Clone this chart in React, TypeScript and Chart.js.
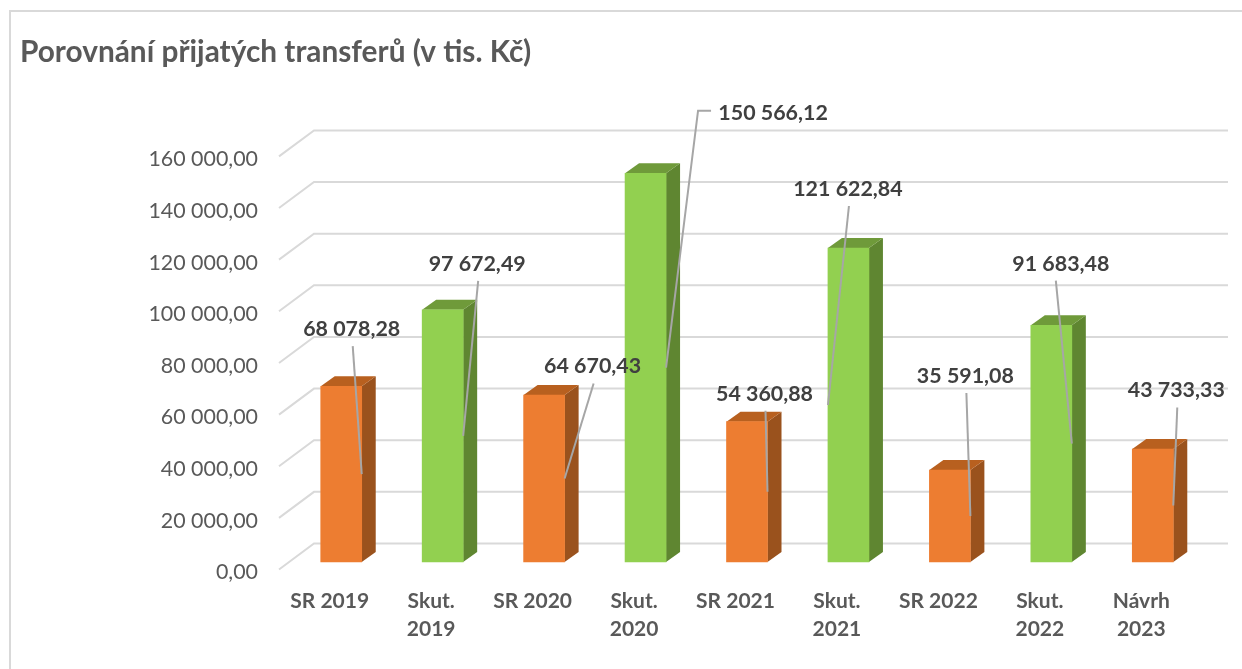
import React, { useEffect, useRef } from "react";
import { Chart, registerables } from "chart.js";

Chart.register(...registerables);

const categories: string[][] = [
  ["SR 2019"], ["Skut.", "2019"], ["SR 2020"], ["Skut.", "2020"], ["SR 2021"],
  ["Skut.", "2021"], ["SR 2022"], ["Skut.", "2022"], ["Návrh", "2023"],
];
const values = [68078.28, 97672.49, 64670.43, 150566.12, 54360.88, 121622.84, 35591.08, 91683.48, 43733.33];
const barKinds = ["sr", "skut", "sr", "skut", "sr", "skut", "sr", "skut", "sr"];
const labelDx = [-10, 14, 28, 107, -3, 20, -5, -11, 3];
const labelDy = [-145, -172, -112, -255, -98, -216, -140, -180, -115];
const leaderSide = [1, 1, 1, 1, 1, -1, 1, 1, 1];
const leaderStartDx = [1, 1, 1, 0, 1, 1, 1, -5, 1];

const FONT = "Lato, 'Open Sans', sans-serif";
const palette: Record<string, { front: string; side: string; top: string }> = {
  sr: { front: "#ED7D31", side: "#9A521D", top: "#B8601F" },
  skut: { front: "#92D050", side: "#5F8631", top: "#6F9A3A" },
};
const FRONT_DY = -3;
const WALL = { dx: 35, dy: -26 };
const BAR_SHIFT = { dx: 11.5, dy: -10.5 };
const BAR_DEPTH = { dx: 14, dy: -10 };

const fmt = (v: number) => {
  const [a, b] = v.toFixed(2).split(".");
  return a.replace(/\B(?=(\d{3})+$)/g, " ") + "," + b;
};

const poly = (ctx: CanvasRenderingContext2D, pts: number[][], color: string) => {
  ctx.fillStyle = color;
  ctx.beginPath();
  pts.forEach(([x, y], i) => (i ? ctx.lineTo(x, y) : ctx.moveTo(x, y)));
  ctx.closePath();
  ctx.fill();
};

const depthPlugin = {
  id: "depth",
  beforeDatasetsDraw(chart: any) {
    const { ctx, chartArea, scales } = chart;
    ctx.save();
    ctx.strokeStyle = "#D9D9D9";
    ctx.lineWidth = 2;
    scales.y.ticks.forEach((t: any) => {
      const y = scales.y.getPixelForValue(t.value) + FRONT_DY;
      ctx.beginPath();
      ctx.moveTo(chartArea.left, y);
      ctx.lineTo(chartArea.left + WALL.dx, y + WALL.dy);
      ctx.lineTo(chartArea.right + WALL.dx + 1, y + WALL.dy);
      ctx.stroke();
    });
    ctx.translate(BAR_SHIFT.dx, BAR_SHIFT.dy);
    chart.getDatasetMeta(0).data.forEach((bar: any, i: number) => {
      const c = palette[barKinds[i]];
      const l = bar.x - bar.width / 2;
      const r = bar.x + bar.width / 2;
      const { dx, dy } = BAR_DEPTH;
      poly(ctx, [[r, bar.y], [r + dx, bar.y + dy], [r + dx, bar.base + dy], [r, bar.base]], c.side);
      poly(ctx, [[l, bar.y], [l + dx, bar.y + dy], [r + dx, bar.y + dy], [r, bar.y]], c.top);
    });
    // left translated so that the library's own bars land on the same plane
  },
  afterDatasetsDraw(chart: any) {
    const { ctx } = chart;
    ctx.restore();
    ctx.save();
    ctx.font = `bold 21.4px ${FONT}`;
    ctx.textAlign = "center";
    ctx.textBaseline = "middle";
    chart.getDatasetMeta(0).data.forEach((bar: any, i: number) => {
      const ex = bar.x + (leaderSide[i] * bar.width) / 2 + BAR_SHIFT.dx;
      const ey = (bar.y + bar.base) / 2 + BAR_SHIFT.dy;
      const cx = ex + labelDx[i];
      const cy = ey + labelDy[i];
      ctx.strokeStyle = "#A6A6A6";
      ctx.lineWidth = 2;
      ctx.beginPath();
      if (Math.abs(labelDx[i]) > 60) {
        ctx.moveTo(cx - 62, cy - 2);
        ctx.lineTo(cx - 75, cy - 2);
      } else {
        ctx.moveTo(cx + leaderStartDx[i], cy + 17);
      }
      ctx.lineTo(ex, ey);
      ctx.stroke();
      ctx.fillStyle = "#404040";
      ctx.fillText(fmt(values[i]), cx, cy);
    });
    ctx.restore();
  },
};

export default function App() {
  const ref = useRef<HTMLCanvasElement>(null);
  useEffect(() => {
    const chart = new Chart(ref.current!, {
      type: "bar",
      data: {
        labels: categories,
        datasets: [
          {
            data: values,
            backgroundColor: barKinds.map((k) => palette[k].front),
            barThickness: 41,
            clip: false,
          } as any,
        ],
      },
      options: {
        responsive: false,
        animation: false,
        layout: { padding: { left: 20, right: 50, top: 0, bottom: 0 } },
        plugins: {
          legend: { display: false },
          tooltip: { enabled: false },
          title: {
            display: true,
            text: "Porovnání přijatých transferů (v tis. Kč)",
            align: "start",
            color: "#595959",
            font: { family: FONT, size: 29.8, weight: "bold", lineHeight: 1.2 },
            padding: { top: 35, bottom: 88.64 },
          },
        },
        scales: {
          x: {
            grid: { display: false },
            border: { display: false },
            ticks: {
              color: "#595959",
              font: { family: FONT, size: 21, weight: "bold", lineHeight: 1.333 },
              padding: 7,
              maxRotation: 0,
              autoSkip: false,
            },
            afterFit: (s: any) => {
              s.height = 96.5;
            },
          },
          y: {
            min: 0,
            max: 160000,
            grid: { display: false },
            border: { display: false },
            ticks: {
              stepSize: 20000,
              color: "#595959",
              font: { family: FONT, size: 21.4 },
              padding: 13,
              callback: (v: any) => fmt(Number(v)),
            },
            afterFit: (s: any) => {
              s.width = 259;
            },
          },
        },
      },
      plugins: [depthPlugin],
    } as any);
    return () => chart.destroy();
  }, []);
  return (
    <div style={{ position: "absolute", left: 0, top: 0, width: 1242, height: 669, background: "#fff", overflow: "hidden" }}>
      <canvas ref={ref} width={1242} height={669} style={{ display: "block", position: "absolute", left: 0, top: 0 }} />
      <div style={{ position: "absolute", left: 9, top: 10, width: 1233, height: 659, borderTop: "2px solid #D9D9D9", borderLeft: "2px solid #D9D9D9", boxSizing: "border-box" }} />
    </div>
  );
}
